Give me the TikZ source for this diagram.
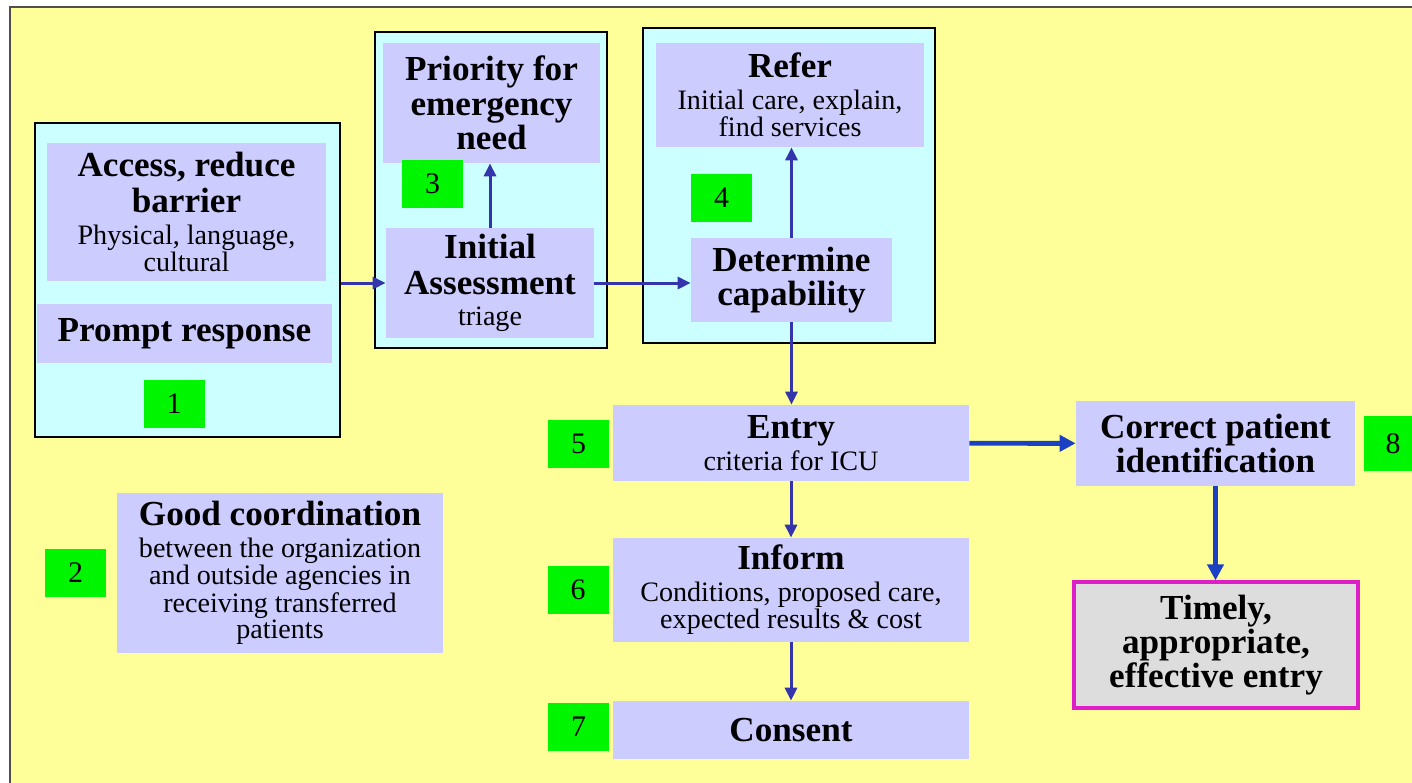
\documentclass[tikz,border=0pt]{standalone}
\usepackage{fontspec}
\setmainfont{Liberation Serif}
\usepackage{tikz}
\usetikzlibrary{arrows.meta,positioning}
\usepackage{xcolor}

\definecolor{bgyellow}{RGB}{255,255,153}
\definecolor{boxcyan}{RGB}{204,255,255}
\definecolor{boxlav}{RGB}{204,204,255}
\definecolor{tagreen}{RGB}{0,245,0}
\definecolor{framegray}{RGB}{80,80,72}
\definecolor{flowblue}{RGB}{52,52,172}
\definecolor{flowdeep}{RGB}{28,64,196}
\definecolor{goalpink}{RGB}{222,30,200}
\definecolor{goalgray}{RGB}{221,221,221}

\newcommand{\hdfont}{\fontsize{20}{19.5}\selectfont\bfseries}
\newcommand{\subfont}{\fontsize{16}{14}\selectfont}
\newcommand{\numfont}{\fontsize{17}{17}\selectfont}
% bold heading line inside a mixed box; the strut keeps the line gaps even
\newcommand{\hd}[1]{{\hdfont\rule[-6pt]{0pt}{19pt}#1}}

\begin{document}
\begin{tikzpicture}[
  x=1cm, y=1cm,
  group/.style={draw=black, line width=0.8pt, fill=boxcyan, inner sep=0pt},
  task/.style={fill=boxlav, inner sep=2pt, align=center, font=\subfont},
  badge/.style={fill=tagreen, inner sep=0pt, minimum width=1.22cm, minimum height=0.96cm, font=\numfont},
  goal/.style={draw=goalpink, line width=1.8pt, fill=goalgray, inner sep=2pt, align=center, font=\hdfont},
  flow/.style={-{Triangle[length=2.6mm,width=2.4mm]}, line width=1.7pt, draw=flowblue},
  flowbold/.style={-{Triangle[length=3.2mm,width=3.2mm]}, line width=2.8pt, draw=flowdeep}
]

  \useasboundingbox (0,0) rectangle (28.24,-15.64);
  \fill[white] (0,0) rectangle (28.24,-15.64);
  % slide frame, open to the right and bottom
  \draw[draw=framegray, line width=1.1pt, fill=bgyellow] (0.20,-0.14) rectangle (28.8,-16.2);

  % cyan containers first
  \node[group, minimum width=6.10cm, minimum height=6.28cm] (grp1) at ( 3.75,-5.60) {};
  \node[group, minimum width=4.64cm, minimum height=6.32cm] (grp3) at ( 9.82,-3.80) {};
  \node[group, minimum width=5.84cm, minimum height=6.30cm] (grp4) at (15.78,-3.71) {};

  % container 1
  \node[task, minimum width=5.58cm, minimum height=2.76cm] (access) at (3.73,-4.24)
    {\hd{Access, reduce}\\\hd{barrier}\\Physical, language,\\cultural};
  \node[task, font=\hdfont, minimum width=5.90cm, minimum height=1.18cm] (prompt) at (3.69,-6.67) {Prompt response};
  \node[badge] (num1) at (3.48,-8.08) {1};

  % container 3
  \node[task, font=\hdfont, minimum width=4.34cm, minimum height=2.40cm] (priority) at (9.83,-2.06)
    {Priority for\\emergency\\need};
  \node[badge] (num3) at (8.65,-3.68) {3};
  \node[task, minimum width=4.16cm, minimum height=2.20cm] (initial) at (9.80,-5.66)
    {\hd{Initial}\\\hd{Assessment}\\triage};

  % container 4
  \node[task, minimum width=5.36cm, minimum height=2.08cm] (refer) at (15.80,-1.90)
    {\hd{Refer}\\Initial care, explain,\\find services};
  \node[badge] (num4) at (14.43,-3.95) {4};
  \node[task, font=\hdfont, minimum width=4.02cm, minimum height=1.68cm] (capab) at (15.83,-5.60)
    {Determine\\capability};

  % middle column
  \node[task, minimum width=7.12cm, minimum height=1.52cm] (entry) at (15.82,-8.86)
    {\hd{Entry}\\criteria for ICU};
  \node[badge] (num5) at (11.57,-8.88) {5};
  \node[task, minimum width=7.12cm, minimum height=2.08cm] (inform) at (15.82,-11.80)
    {\hd{Inform}\\Conditions, proposed care,\\expected results \& cost};
  \node[badge] (num6) at (11.56,-11.80) {6};
  \node[task, font=\hdfont, minimum width=7.12cm, minimum height=1.16cm] (consent) at (15.82,-14.60) {Consent};
  \node[badge] (num7) at (11.57,-14.53) {7};

  % right column
  \node[task, font=\hdfont, minimum width=5.58cm, minimum height=1.70cm] (ident) at (24.31,-8.87)
    {Correct patient\\identification};
  \node[badge, minimum width=1.16cm, minimum height=1.10cm] (num8) at (27.86,-8.87) {8};
  \node[goal, minimum width=5.68cm, minimum height=2.52cm] (timely) at (24.32,-12.90)
    {Timely,\\appropriate,\\effective entry};

  % lower left
  \node[task, minimum width=6.52cm, minimum height=3.20cm] (coord) at (5.60,-11.46)
    {\hd{Good coordination}\\between the organization\\and outside agencies in\\receiving transferred\\patients};
  \node[badge] (num2) at (1.51,-11.46) {2};

  % flow
  \draw[flow] (grp1.east |- initial.west) -- (initial.west);
  \draw[flow] (initial.north) -- (initial.north |- priority.south);
  \draw[flow] (initial.east) -- (initial.east -| capab.west);
  \draw[flow] (capab.north) -- (capab.north |- refer.south);
  \draw[flow] (capab.south) -- (capab.south |- entry.north);
  \draw[flow] (entry) -- (inform);
  \draw[flow] (inform) -- (consent);
  \draw[flowbold] (entry) -- (ident);
  \draw[flowbold] (ident.south) -- (ident.south |- timely.north);

\end{tikzpicture}
\end{document}
